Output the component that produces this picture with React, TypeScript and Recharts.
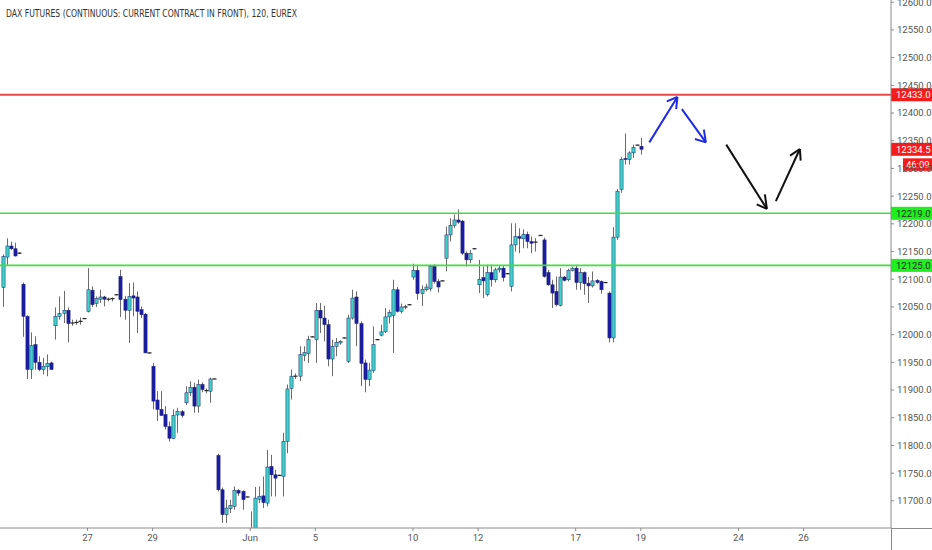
import React from 'react'
import { ComposedChart, Bar, XAxis, YAxis, ReferenceLine } from 'recharts'

// 120-minute bars, 8 per session; slot 0 = 4th-to-last bar of May 22
const OPEN = [
  12085, 12140, 12160, 12155, 12147,
  12091, 12033, 11937, 11982, 11950, 11937, 11942, 11949,
  12016, 12033, 12038, 12044, 12021, 12022, 12024, 12029,
  12042, 12080, 12056, 12064, 12068, 12064, 12065, 12072,
  12105, 12064, 12044, 12070, 12068, 12045, 12037, 11967,
  11943, 11882, 11865, 11856, 11834, 11813, 11855, 11861,
  11877, 11895, 11905, 11871, 11910, 11899, 11898, 11920,
  11782, 11720, 11675, 11686, 11690, 11719, 11717, 11707,
  11648, 11635, 11703, 11709, 11696, 11762, 11747, 11746,
  11744, 11807, 11903, 11925, 11925, 11962, 11966, 11996,
  11991, 12044, 12030, 12018, 11956, 11979, 11985, 11994,
  11952, 12030, 12068, 12020, 11949, 11919, 11935, 11991,
  11999, 12005, 12032, 12035, 12081, 12042, 12050, 12054,
  12104, 12116, 12074, 12081, 12083, 12123, 12096, 12097,
  12138, 12180, 12197, 12207, 12205, 12147, 12135, 12155,
  12090, 12103, 12072, 12112, 12099, 12117, 12120, 12110,
  12087, 12162, 12177, 12173, 12181, 12168, 12167, 12179,
  12171, 12112, 12090, 12078, 12053, 12104, 12099, 12116,
  12120, 12094, 12112, 12093, 12088, 12098, 12096, 12094,
  12075, 11994, 12176, 12262, 12318, 12316, 12328, 12342,
  12340,
]

const HIGH = [
  12145, 12174, 12168, 12166, 12149,
  12094, 12035, 12004, 11997, 11961, 11958, 11964, 11951,
  12049, 12069, 12079, 12049, 12027, 12027, 12031, 12030,
  12120, 12087, 12069, 12081, 12070, 12067, 12067, 12073,
  12117, 12070, 12093, 12094, 12078, 12051, 12039, 11968,
  11949, 11898, 11898, 11871, 11843, 11865, 11868, 11864,
  11907, 11916, 11913, 11919, 11914, 11903, 11922, 11921,
  11785, 11724, 11702, 11702, 11726, 11721, 11719, 11708,
  11681, 11725, 11726, 11744, 11792, 11783, 11756, 11747,
  11823, 11910, 11937, 11930, 11979, 11979, 11998, 11997,
  12057, 12057, 12052, 12027, 11991, 11994, 11990, 11995,
  12036, 12081, 12078, 12024, 11955, 11949, 12015, 11992,
  12018, 12048, 12045, 12099, 12086, 12056, 12054, 12055,
  12128, 12126, 12089, 12092, 12126, 12127, 12100, 12098,
  12195, 12210, 12217, 12226, 12207, 12150, 12153, 12156,
  12135, 12123, 12126, 12126, 12121, 12124, 12124, 12111,
  12201, 12201, 12192, 12190, 12186, 12177, 12174, 12180,
  12175, 12117, 12099, 12105, 12120, 12106, 12119, 12123,
  12126, 12120, 12114, 12104, 12114, 12100, 12098, 12095,
  12078, 12194, 12263, 12321, 12363, 12331, 12343, 12343,
  12355,
]

const LOW = [
  12050, 12126, 12153, 12141, 12146,
  11996, 11920, 11920, 11937, 11934, 11928, 11925, 11936,
  11991, 12027, 12021, 11986, 12016, 12018, 12018, 12028,
  12040, 12050, 12050, 12057, 12051, 12060, 12060, 12071,
  12032, 12027, 11985, 12033, 12003, 12030, 11967, 11966,
  11865, 11844, 11853, 11829, 11807, 11811, 11823, 11850,
  11873, 11889, 11859, 11859, 11896, 11894, 11877, 11919,
  11717, 11660, 11660, 11678, 11684, 11709, 11684, 11706,
  11620, 11620, 11696, 11687, 11690, 11708, 11708, 11745,
  11708, 11786, 11883, 11920, 11916, 11952, 11949, 11995,
  11949, 12003, 11988, 11943, 11925, 11961, 11982, 11993,
  11949, 12027, 11979, 11907, 11896, 11907, 11931, 11990,
  11997, 12003, 12020, 11967, 12040, 12038, 12046, 12053,
  12099, 12063, 12052, 12078, 12078, 12092, 12076, 12096,
  12114, 12168, 12192, 12200, 12144, 12123, 12129, 12154,
  12075, 12066, 12069, 12087, 12094, 12112, 12096, 12109,
  12078, 12150, 12147, 12156, 12156, 12147, 12150, 12178,
  12103, 12088, 12048, 12051, 12051, 12096, 12096, 12114,
  12081, 12081, 12072, 12057, 12085, 12092, 12074, 12093,
  11986, 11986, 12171, 12256, 12307, 12307, 12319, 12341,
  12325,
]

const CLOSE = [
  12141, 12160, 12155, 12142, 12147,
  12033, 11937, 11980, 11950, 11937, 11943, 11948, 11937,
  12033, 12038, 12044, 12020, 12021, 12022, 12024, 12029,
  12081, 12054, 12065, 12068, 12064, 12064, 12065, 12072,
  12063, 12044, 12069, 12066, 12042, 12036, 11967, 11967,
  11880, 11865, 11854, 11834, 11813, 11854, 11861, 11854,
  11895, 11905, 11871, 11910, 11901, 11899, 11920, 11920,
  11720, 11675, 11687, 11692, 11719, 11714, 11702, 11707,
  11630, 11705, 11708, 11697, 11761, 11747, 11741, 11746,
  11807, 11902, 11925, 11925, 11964, 11968, 11991, 11996,
  12044, 12030, 12018, 11956, 11979, 11986, 11988, 11994,
  12030, 12066, 12020, 11948, 11919, 11936, 11982, 11991,
  12005, 12032, 12040, 12081, 12042, 12050, 12050, 12054,
  12116, 12074, 12082, 12086, 12123, 12096, 12086, 12097,
  12180, 12197, 12207, 12203, 12147, 12135, 12147, 12155,
  12100, 12097, 12112, 12099, 12117, 12120, 12103, 12110,
  12162, 12177, 12174, 12181, 12168, 12165, 12167, 12179,
  12105, 12090, 12075, 12054, 12104, 12098, 12116, 12120,
  12094, 12112, 12092, 12088, 12097, 12094, 12081, 12094,
  11994, 12176, 12259, 12316, 12316, 12328, 12338, 12342,
  12334.5,
]

const TICK_SLOTS = [21, 37, 61, 77, 101, 117, 141, 157, 181, 197]
const TICK_LABELS = ['27', '29', 'Jun', '5', '10', '12', '17', '19', '24', '26']
const Y_TICKS = [
  11700, 11750, 11800, 11850, 11900, 11950, 12000, 12050, 12100, 12150,
  12200, 12250, 12300, 12350, 12400, 12450, 12500, 12550, 12600,
]

const RESISTANCE = 12433
const SUPPORTS = [12219, 12125]
const LAST_PRICE = 12334.5
const COUNTDOWN = '46:09'

// drawn arrows, in [slot, price]
const ARROWS = [
  { color: '#1f2be0', from: [159.1, 12347], to: [166.0, 12429], wings: [[163.4, 12421], [165.7, 12407]] },
  { color: '#1f2be0', from: [167.1, 12407], to: [173.0, 12347], wings: [[170.3, 12353], [172.5, 12370]] },
  { color: '#111111', from: [178.0, 12343], to: [188.0, 12227], wings: [[185.5, 12235], [187.5, 12253]] },
  { color: '#111111', from: [190.2, 12241], to: [196.1, 12335], wings: [[193.7, 12323], [196.3, 12314]] },
]

const UP = '#3fd0c6'
const DOWN = '#1c1ca4'
const EDGE = '#1d2470'
const WICK = '#6b6b6b'
const AXIS = '#8a8a8a'
const FONT = 'Roboto, "Noto Sans", sans-serif'

const candles = OPEN.map((o, i) => ({
  i,
  o,
  h: HIGH[i],
  l: LOW[i],
  c: CLOSE[i],
  range: [LOW[i], HIGH[i]],
}))

function Candle(props: any) {
  const { x, y, width, height, payload } = props
  if (x == null || y == null || !payload) return null
  const { o, h, l, c } = payload
  const top = Math.min(y, y + height)
  const span = Math.abs(height)
  const k = h > l ? span / (h - l) : 0
  const py = (v: number) => top + (h - v) * k
  const cx = Math.round(x + width / 2) + 0.5
  const bTop = py(Math.max(o, c))
  const bBot = py(Math.min(o, c))
  return (
    <g>
      <line x1={cx} x2={cx} y1={top} y2={top + span} stroke={WICK} strokeWidth={1} />
      {o === c ? (
        <line x1={cx - 2} x2={cx + 2} y1={bTop} y2={bTop} stroke="#222" strokeWidth={1.2} />
      ) : (
        <rect
          x={cx - 1.6}
          y={bTop}
          width={3.2}
          height={Math.max(1, bBot - bTop)}
          fill={c > o ? UP : DOWN}
          stroke={EDGE}
          strokeWidth={0.5}
        />
      )}
    </g>
  )
}

function PriceTag({ viewBox, text, bg, color, extra }: any) {
  if (!viewBox) return null
  const right = viewBox.x + viewBox.width
  const cy = viewBox.y
  return (
    <g>
      <rect x={right} y={cy - 6.5} width={41} height={13} fill={bg} />
      <text x={right + 5} y={cy + 3.3} fontSize={9.5} fontFamily={FONT} fill={color}>
        {text}
      </text>
      {extra ? (
        <g>
          <rect x={right + 12} y={cy + 9} width={29} height={12.5} fill={bg} />
          <text x={right + 15} y={cy + 18.6} fontSize={9.5} fontFamily={FONT} fill={color}>
            {extra}
          </text>
        </g>
      ) : null}
    </g>
  )
}

export default function App() {
  return (
    <div style={{ position: 'absolute', left: 0, top: 0, width: 932, height: 550, background: '#ffffff' }}>
      <ComposedChart width={932} height={550} data={candles} margin={{ top: 0, right: 0, left: 0, bottom: 0 }}>
        <XAxis
          dataKey="i"
          type="number"
          domain={[-0.5, 218.5]}
          allowDataOverflow
          ticks={TICK_SLOTS}
          tickFormatter={(v: number) => TICK_LABELS[TICK_SLOTS.indexOf(v)] ?? ''}
          height={22}
          tickSize={3}
          tickMargin={3}
          axisLine={{ stroke: AXIS }}
          tickLine={{ stroke: AXIS }}
          tick={{ fontSize: 9.5, fill: '#555', fontFamily: FONT }}
        />
        <YAxis
          orientation="right"
          domain={[11651, 12604]}
          allowDataOverflow
          ticks={Y_TICKS}
          interval={0}
          tickFormatter={(v: number) => v.toFixed(1)}
          width={41}
          tickSize={3}
          tickMargin={3}
          axisLine={{ stroke: AXIS }}
          tickLine={{ stroke: AXIS }}
          tick={{ fontSize: 9.5, fill: '#555', fontFamily: FONT }}
        />
        <Bar dataKey="range" barSize={3} shape={<Candle />} isAnimationActive={false} />
        <ReferenceLine
          y={RESISTANCE}
          stroke="#e84848"
          strokeWidth={2}
          label={{ content: (p: any) => <PriceTag viewBox={p.viewBox} text={RESISTANCE.toFixed(1)} bg="#f51c1c" color="#ffffff" /> }}
        />
        {SUPPORTS.map((s) => (
          <ReferenceLine
            key={s}
            y={s}
            stroke="#3ee03e"
            strokeWidth={1.6}
            label={{ content: (p: any) => <PriceTag viewBox={p.viewBox} text={s.toFixed(1)} bg="#1fef1f" color="#2a2a2a" /> }}
          />
        ))}
        <ReferenceLine
          y={LAST_PRICE}
          stroke="none"
          label={{
            content: (p: any) => (
              <PriceTag viewBox={p.viewBox} text={LAST_PRICE.toFixed(1)} bg="#f51c1c" color="#ffffff" extra={COUNTDOWN} />
            ),
          }}
        />
        {ARROWS.map((a, n) => [
          <ReferenceLine
            key={`s${n}`}
            segment={[{ x: a.from[0], y: a.from[1] }, { x: a.to[0], y: a.to[1] }]}
            stroke={a.color}
            strokeWidth={2}
            ifOverflow="visible"
          />,
          ...a.wings.map((w, m) => (
            <ReferenceLine
              key={`w${n}${m}`}
              segment={[{ x: a.to[0], y: a.to[1] }, { x: w[0], y: w[1] }]}
              stroke={a.color}
              strokeWidth={2}
              ifOverflow="visible"
            />
          )),
        ])}
      </ComposedChart>
      <svg width={932} height={550} style={{ position: 'absolute', left: 0, top: 0, pointerEvents: 'none' }}>
        <text
          x={6}
          y={16.5}
          fontSize={10.5}
          fill="#333"
          fontFamily={'"Liberation Sans Narrow", "DejaVu Sans Condensed", Roboto, sans-serif'}
          textLength={291}
          lengthAdjust="spacingAndGlyphs"
        >
          DAX FUTURES (CONTINUOUS: CURRENT CONTRACT IN FRONT), 120, EUREX
        </text>
        <line x1={891} x2={932} y1={528.5} y2={528.5} stroke={AXIS} />
        <line x1={891.5} x2={891.5} y1={528} y2={550} stroke={AXIS} />
      </svg>
    </div>
  )
}
